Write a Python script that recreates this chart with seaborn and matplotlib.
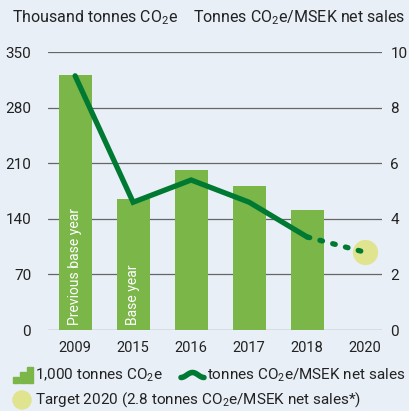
import numpy as np
import pandas as pd
import matplotlib
matplotlib.use("Agg")
import matplotlib.pyplot as plt
import seaborn as sns
from matplotlib.patches import Rectangle, Ellipse
from matplotlib.lines import Line2D

# data
years = ["2009", "2015", "2016", "2017", "2018", "2020"]
emissions = [321, 165, 201, 182, 151, np.nan]      # thousand tonnes CO2e
intensity = [9.15, 4.6, 5.4, 4.6, 3.35]            # tonnes CO2e / MSEK, 2009-2018
target_year = "2020"
target_value = 2.8
bar_notes = {"2009": "Previous base year", "2015": "Base year"}

bg = "#e8eff7"
bar_col = "#7ab648"
line_col = "#007a33"
target_col = "#e0e48f"
grid_col = "#666666"
txt_col = "#222222"

sns.set_theme(style="white")
plt.rcParams["font.family"] = ["Roboto", "DejaVu Sans"]
plt.rcParams["mathtext.fontset"] = "custom"
plt.rcParams["mathtext.rm"] = "Roboto"
plt.rcParams["mathtext.default"] = "regular"

fig = plt.figure(figsize=(4.09, 4.11), dpi=100, facecolor=bg)
ax = fig.add_axes([0.117, 0.197, 0.817, 0.676])
ax.set_facecolor(bg)

df = pd.DataFrame({"year": years, "emissions": emissions})
sns.barplot(data=df, x="year", y="emissions", order=years, color=bar_col,
            saturation=1, width=0.57, linewidth=0, ax=ax, zorder=3)

ax.set_ylim(0, 350)
ax.set_yticks(np.arange(0, 351, 70))
ax.set_xlim(-0.47, 5.29)
ax.grid(axis="y", color=grid_col, linewidth=0.9, zorder=0)
ax.set_axisbelow(True)
for s in ax.spines.values():
    s.set_visible(False)
ax.set_xlabel("")
ax.set_ylabel("")
ax.tick_params(axis="y", length=0, pad=12, labelsize=11, colors=txt_col)
ax.tick_params(axis="x", length=0, pad=8, labelsize=10.5, colors=txt_col)

# notes inside bars
for i, y in enumerate(years):
    if y in bar_notes:
        ax.text(i, 6, bar_notes[y], rotation=90, ha="center", va="bottom",
                color="white", fontsize=10, zorder=5)

# right axis: intensity
ax2 = ax.twinx()
ax2.set_ylim(0, 10)
ax2.set_yticks(np.arange(0, 11, 2))
ax2.set_xlim(ax.get_xlim())
for s in ax2.spines.values():
    s.set_visible(False)
ax2.tick_params(axis="y", length=0, pad=6, labelsize=11, colors=txt_col)
ax2.grid(False)

xs = np.arange(len(intensity))
ax2.plot(xs, intensity, color=line_col, linewidth=3.8, solid_capstyle="round",
         solid_joinstyle="miter", zorder=6)
ti = years.index(target_year)
ax2.scatter([ti], [target_value], s=330, color=target_col, zorder=5, linewidths=0)
ax2.plot([xs[-1], ti], [intensity[-1], target_value], color=line_col, linewidth=3.8,
         linestyle=(0, (0.5, 2.0)), dash_capstyle="round", zorder=6)

# axis titles
fig.text(12 / 409, 1 - 18 / 411, "Thousand tonnes CO$_2$e", fontsize=11.5,
         ha="left", va="center", color=txt_col)
fig.text(405 / 409, 1 - 18 / 411, "Tonnes CO$_2$e/MSEK net sales", fontsize=11.5,
         ha="right", va="center", color=txt_col)

# legend, drawn by hand
def fx(px):
    return px / 409

def fy(py):
    return 1 - py / 411

for x0, h in [(13, 6), (20, 11), (27, 16)]:
    fig.add_artist(Rectangle((fx(x0), fy(383)), fx(6), h / 411, color=bar_col,
                             transform=fig.transFigure))
fig.text(fx(35), fy(375), "1,000 tonnes CO$_2$e", fontsize=11, va="center",
         color=txt_col)
wx = np.linspace(181, 204, 30)
wy = 375 + 2.5 * np.cos((wx - 181) / 23 * 2 * np.pi)
fig.add_artist(Line2D(fx(wx), fy(wy), color=line_col, linewidth=4,
                      transform=fig.transFigure, solid_capstyle="round"))
fig.text(fx(207), fy(375), "tonnes CO$_2$e/MSEK net sales", fontsize=11,
         va="center", color=txt_col)
fig.add_artist(Ellipse((fx(22), fy(400)), fx(18), 18 / 411, color=target_col,
                       transform=fig.transFigure))
fig.text(fx(35), fy(400), "Target 2020 (2.8 tonnes CO$_2$e/MSEK net sales*)",
         fontsize=11, va="center", color=txt_col)

fig.savefig("out.png", dpi=100, facecolor=bg)
